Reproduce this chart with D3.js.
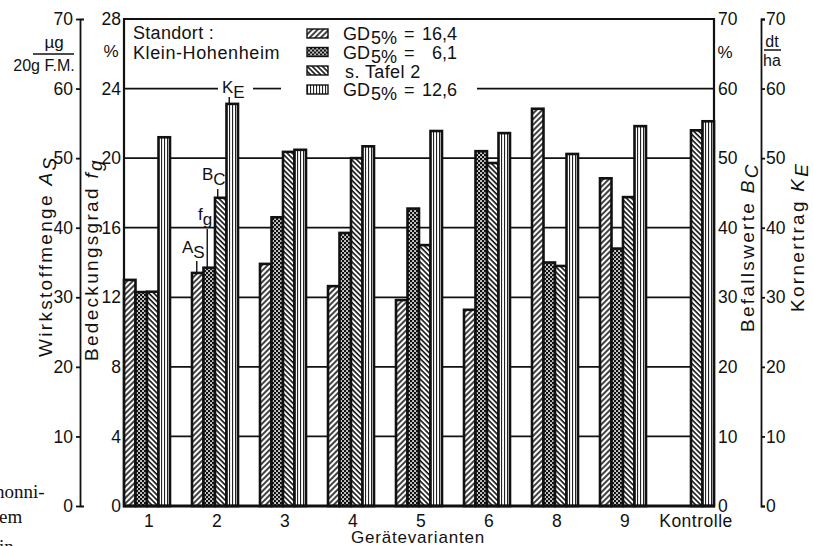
<!DOCTYPE html>
<html>
<head>
<meta charset="utf-8">
<script src="https://cdn.jsdelivr.net/npm/d3@7"></script>
<style>
  body { margin: 0; background: #fff; }
  svg { display: block; }
  text { font-family: "Liberation Sans", Arial, sans-serif; fill: #111; }
</style>
</head>
<body>
<svg id="svg" width="813" height="546"></svg>
<script>
// values (A_S, B_C, K_E on 0-70 scale, f_g on 0-28 scale)
var categories = ["1", "2", "3", "4", "5", "6", "8", "9", "Kontrolle"]
var asValues = [32.5, 33.5, 34.8, 31.6, 29.6, 28.2, 57.1, 47.1, null]
var fgValues = [12.3, 13.7, 16.6, 15.7, 17.1, 20.4, 14.0, 14.8, null]
var bcValues = [30.8, 44.3, 50.9, 50.0, 37.5, 49.3, 34.5, 44.4, 54.0]
var keValues = [53.0, 57.8, 51.2, 51.7, 53.9, 53.6, 50.6, 54.6, 55.3]

var ticks70 = [0, 10, 20, 30, 40, 50, 60, 70]
var ticks28 = [0, 4, 8, 12, 16, 20, 24, 28]
var gridValues = [10, 20, 30, 40, 50]

var legendRows = [
    { pat: "pAS", gd: true, val: "16,4" },
    { pat: "pFG", gd: true, val: "6,1" },
    { pat: "pBC", gd: false, text: "s. Tafel 2" },
    { pat: "pKE", gd: true, val: "12,6" }
]

var svg = d3.select("#svg")
var plotL = 124, plotR = 714, plotT = 19, plotB = 506

var y70 = d3.scaleLinear().domain([0, 70]).range([plotB, plotT])
var y28 = d3.scaleLinear().domain([0, 28]).range([plotB, plotT])

var x = d3.scaleBand()
    .domain(categories)
    .range([plotL, plotR])
    .paddingInner(22 / 68)
    .paddingOuter(0)

var series = [
    { key: "AS", values: asValues, y: y70, pat: "pAS" },
    { key: "fg", values: fgValues, y: y28, pat: "pFG" },
    { key: "BC", values: bcValues, y: y70, pat: "pBC" },
    { key: "KE", values: keValues, y: y70, pat: "pKE" }
]

var xi = d3.scaleBand()
    .domain(series.map(function (s) { return s.key }))
    .range([0, x.bandwidth()])

// patterns
var defs = svg.append("defs")

function hatch(id, size, angle) {
    var p = defs.append("pattern")
        .attr("id", id)
        .attr("patternUnits", "userSpaceOnUse")
        .attr("width", size).attr("height", size)
        .attr("patternTransform", "rotate(" + angle + ")")
    p.append("rect").attr("width", size).attr("height", size).attr("fill", "#fff")
    p.append("line").attr("x1", 1).attr("x2", 1).attr("y1", 0).attr("y2", size)
        .attr("stroke", "#111").attr("stroke-width", 1.6)
}
hatch("pAS", 4, 45)
hatch("pBC", 3.6, -45)

var pfg = defs.append("pattern").attr("id", "pFG")
    .attr("patternUnits", "userSpaceOnUse").attr("width", 4).attr("height", 4)
pfg.append("rect").attr("width", 4).attr("height", 4).attr("fill", "#111")
pfg.append("rect").attr("x", 0.2).attr("y", 0.2).attr("width", 1.7).attr("height", 1.7).attr("fill", "#fff")
pfg.append("rect").attr("x", 2.2).attr("y", 2.2).attr("width", 1.7).attr("height", 1.7).attr("fill", "#fff")

var pke = defs.append("pattern").attr("id", "pKE")
    .attr("patternUnits", "userSpaceOnUse").attr("width", 3).attr("height", 3)
pke.append("rect").attr("width", 3).attr("height", 3).attr("fill", "#fff")
pke.append("rect").attr("x", 1).attr("width", 1.1).attr("height", 3).attr("fill", "#222")

// gridlines
var grid = svg.append("g").attr("stroke", "#111").attr("stroke-width", 1.7)
gridValues.forEach(function (v) {
    grid.append("line").attr("x1", plotL).attr("x2", plotR)
        .attr("y1", y70(v)).attr("y2", y70(v))
})
// the 60 line is broken by the K_E label and the legend
;[[plotL, 218], [253, 281], [477, plotR]].forEach(function (s) {
    grid.append("line").attr("x1", s[0]).attr("x2", s[1])
        .attr("y1", y70(60)).attr("y2", y70(60))
})

// bars
var groups = svg.append("g").selectAll(".group")
    .data(categories)
    .enter().append("g")
    .attr("class", "group")
    .attr("transform", function (d) { return "translate(" + x(d) + ",0)" })

groups.selectAll("rect")
    .data(function (d, i) {
        return series.filter(function (s) { return s.values[i] !== null })
            .map(function (s) { return { s: s, v: s.values[i] } })
    })
    .enter().append("rect")
    .attr("x", function (d) { return xi(d.s.key) })
    .attr("width", xi.bandwidth())
    .attr("y", function (d) { return d.s.y(d.v) })
    .attr("height", function (d) { return plotB - d.s.y(d.v) })
    .attr("fill", function (d) { return "url(#" + d.s.pat + ")" })
    .attr("stroke", "#111")
    .attr("stroke-width", 2.6)

// frame
var frame = svg.append("g").attr("stroke", "#111").attr("fill", "none")
frame.append("line").attr("x1", plotL).attr("x2", plotL).attr("y1", plotT - 1).attr("y2", plotB).attr("stroke-width", 2.2)
frame.append("line").attr("x1", plotR).attr("x2", plotR).attr("y1", plotT - 1).attr("y2", plotB).attr("stroke-width", 2.2)
frame.append("line").attr("x1", plotL).attr("x2", plotR).attr("y1", plotT).attr("y2", plotT).attr("stroke-width", 2.2)
frame.append("line").attr("x1", plotL - 1).attr("x2", plotR + 1).attr("y1", plotB).attr("y2", plotB).attr("stroke-width", 2.8)

// axes
function styleAxis(g) {
    g.attr("font-family", null).attr("font-size", null)
    g.selectAll("text").style("font-size", "17.5px")
    g.selectAll("line, path").attr("stroke", "#111").attr("stroke-width", 1.8)
}

svg.append("g").attr("transform", "translate(80,0)")
    .call(d3.axisLeft(y70).tickValues(ticks70).tickSize(4).tickSizeOuter(-4).tickPadding(3))
    .call(styleAxis)

svg.append("g").attr("transform", "translate(" + plotL + ",0)")
    .call(d3.axisLeft(y28).tickValues(ticks28).tickSize(0).tickPadding(3))
    .call(styleAxis)
    .call(function (g) { g.select(".domain").remove() })

svg.append("g").attr("transform", "translate(" + plotR + ",0)")
    .call(d3.axisRight(y70).tickValues(ticks70).tickSize(0).tickPadding(4))
    .call(styleAxis)
    .call(function (g) { g.select(".domain").remove() })

svg.append("g").attr("transform", "translate(761,0)")
    .call(d3.axisRight(y70).tickValues(ticks70).tickSize(4).tickSizeOuter(4).tickPadding(1))
    .call(styleAxis)

// category labels
svg.append("g").selectAll("text")
    .data(categories)
    .enter().append("text")
    .attr("x", function (d) { return x(d) + x.bandwidth() / 2 + (d === "Kontrolle" ? 5 : 2) })
    .attr("y", 527)
    .attr("text-anchor", "middle")
    .style("font-size", "17.5px")
    .style("letter-spacing", "0.5px")
    .text(function (d) { return d })

svg.append("text").attr("x", 418).attr("y", 543).attr("text-anchor", "middle")
    .style("font-size", "17px").style("letter-spacing", "0.8px")
    .text("Gerätevarianten")

// unit labels
svg.append("text").attr("x", 54).attr("y", 48).attr("text-anchor", "middle").style("font-size", "17px").text("µg")
svg.append("line").attr("x1", 33).attr("x2", 74).attr("y1", 54).attr("y2", 54).attr("stroke", "#111").attr("stroke-width", 1.5)
svg.append("text").attr("x", 44).attr("y", 71).attr("text-anchor", "middle").style("font-size", "16px").text("20g F.M.")
svg.append("text").attr("x", 111).attr("y", 57).attr("text-anchor", "middle").style("font-size", "17px").text("%")
svg.append("text").attr("x", 725).attr("y", 58).attr("text-anchor", "middle").style("font-size", "17px").text("%")
svg.append("text").attr("x", 772).attr("y", 47).attr("text-anchor", "middle").style("font-size", "16px").text("dt")
svg.append("line").attr("x1", 764).attr("x2", 781).attr("y1", 50).attr("y2", 50).attr("stroke", "#111").attr("stroke-width", 1.5)
svg.append("text").attr("x", 772).attr("y", 66).attr("text-anchor", "middle").style("font-size", "16px").text("ha")

// rotated axis titles
function axisTitle(xPos, yPos, main, sym, sub) {
    var t = svg.append("text")
        .attr("transform", "translate(" + xPos + "," + yPos + ") rotate(-90)")
        .style("font-size", "19px")
        .style("letter-spacing", "2.3px")
    t.append("tspan").text(main + " ")
    t.append("tspan").style("font-style", "italic").text(sym)
    t.append("tspan").attr("dy", 4).style("font-style", "italic").text(sub)
}
axisTitle(52, 357, "Wirkstoffmenge", "A", "S")
axisTitle(98, 361, "Bedeckungsgrad", "f", "g")
axisTitle(754, 332, "Befallswerte", "B", "C")
axisTitle(804, 312, "Kornertrag", "K", "E")

// legend
svg.append("text").attr("x", 133).attr("y", 39).style("font-size", "18px").style("letter-spacing", "0.3px").text("Standort :")
svg.append("text").attr("x", 133).attr("y", 59).style("font-size", "18px").style("letter-spacing", "0.6px").text("Klein-Hohenheim")

var rowY = [29, 47.5, 66, 85]
var leg = svg.append("g").selectAll("g")
    .data(legendRows)
    .enter().append("g")
    .attr("transform", function (d, i) { return "translate(0," + rowY[i] + ")" })

leg.append("rect").attr("x", 307).attr("y", 0).attr("width", 21).attr("height", 9)
    .attr("fill", function (d) { return "url(#" + d.pat + ")" })
    .attr("stroke", "#111").attr("stroke-width", 1.4)

leg.filter(function (d) { return d.gd }).each(function (d) {
    var g = d3.select(this)
    g.append("text").attr("x", 343).attr("y", 11).style("font-size", "18px").text("GD")
    g.append("text").attr("x", 371).attr("y", 15).style("font-size", "18px").text("5%")
    g.append("text").attr("x", 404).attr("y", 11).style("font-size", "18px").text("=")
    g.append("text").attr("x", 457).attr("y", 11).attr("text-anchor", "end").style("font-size", "18px").text(d.val)
})
leg.filter(function (d) { return !d.gd }).append("text")
    .attr("x", 345).attr("y", 12).style("font-size", "18px").style("letter-spacing", "0.4px")
    .text(function (d) { return d.text })

// in-chart labels on group 2
var g2 = categories[1]
function barCenter(key) { return x(g2) + xi(key) + xi.bandwidth() / 2 }
function barTop(i) { return series[i].y(series[i].values[1]) }

function symLabel(xPos, yPos, sym, sub) {
    var t = svg.append("text").attr("x", xPos).attr("y", yPos).style("font-size", "17px")
    t.append("tspan").text(sym)
    t.append("tspan").attr("dy", 5).text(sub)
}
var lead = svg.append("g").attr("stroke", "#111").attr("stroke-width", 1.4)

symLabel(182, 253, "A", "S")
lead.append("line").attr("x1", barCenter("AS") - 1).attr("x2", barCenter("AS") - 1).attr("y1", 261).attr("y2", barTop(0))
symLabel(198, 220, "f", "g")
lead.append("line").attr("x1", barCenter("fg") - 2).attr("x2", barCenter("fg") - 2).attr("y1", 229).attr("y2", barTop(1))
symLabel(202, 180, "B", "C")
lead.append("line").attr("x1", barCenter("BC") - 3).attr("x2", barCenter("BC") - 3).attr("y1", 189).attr("y2", barTop(2))
symLabel(222, 93, "K", "E")
lead.append("line").attr("x1", barCenter("KE") - 3).attr("x2", barCenter("KE") - 3).attr("y1", 97).attr("y2", barTop(3))

// fragment of the neighbouring page text
var serif = svg.append("g")
serif.append("text").attr("x", -5).attr("y", 498).style("font-size", "19px").style("font-family", "'Liberation Serif', serif").text("honni-")
serif.append("text").attr("x", -1).attr("y", 523).style("font-size", "19px").style("font-family", "'Liberation Serif', serif").text("em")
serif.append("text").attr("x", -1).attr("y", 553).style("font-size", "19px").style("font-family", "'Liberation Serif', serif").text("in-")
</script>
</body>
</html>
